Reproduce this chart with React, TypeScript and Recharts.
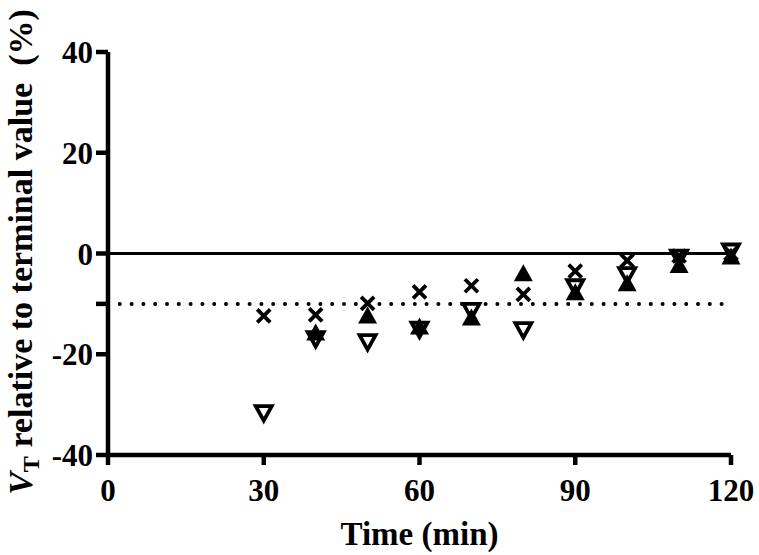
import { ScatterChart, Scatter, XAxis, YAxis, ReferenceLine } from 'recharts';

// sampling times (min)
const times = [30, 40, 50, 60, 70, 80, 90, 100, 110, 120];
// cross markers
const crossVals = [-12.4, -12.2, -9.9, -7.6, -6.4, -8.1, -3.5, -1.4, -0.5, 0];
// filled triangles (no point at 30 min)
const filledTimes = [40, 50, 60, 70, 80, 90, 100, 110, 120];
const filledVals = [-15.7, -12.3, -14.5, -12.7, -3.9, -7.7, -5.9, -2.3, -0.6];
// open inverted triangles
const openVals = [-31.7, -17.0, -17.6, -15.1, -11.4, -15.2, -6.7, -4.3, -0.8, 0.4];

const xTicks = [0, 30, 60, 90, 120];
const yTicks = [-40, -20, -10, 0, 20, 40];

const crossData = times.map((t, i) => ({ t, v: crossVals[i] }));
const filledData = filledTimes.map((t, i) => ({ t, v: filledVals[i] }));
const openData = times.map((t, i) => ({ t, v: openVals[i] }));

const FONT = '"Liberation Serif", "Times New Roman", serif';

const Cross = (props: any) => {
  const { cx, cy } = props;
  const r = 6.5;
  return (
    <g stroke="#000" strokeWidth={3.8}>
      <line x1={cx - r} y1={cy - r} x2={cx + r} y2={cy + r} />
      <line x1={cx - r} y1={cy + r} x2={cx + r} y2={cy - r} />
    </g>
  );
};

const TriUp = (props: any) => {
  const { cx, cy } = props;
  return <polygon points={`${cx},${cy - 9} ${cx + 9.5},${cy + 8} ${cx - 9.5},${cy + 8}`} fill="#000" />;
};

const TriDown = (props: any) => {
  const { cx, cy } = props;
  return (
    <polygon
      points={`${cx - 8},${cy - 7} ${cx + 8},${cy - 7} ${cx},${cy + 7.5}`}
      fill="#fff"
      stroke="#000"
      strokeWidth={3.8}
      strokeLinejoin="miter"
    />
  );
};

const YLabel = () => (
  <text
    x={32}
    y={252}
    transform="rotate(-90 32 252)"
    textAnchor="middle"
    fontFamily={FONT}
    fontWeight="bold"
    fontSize={34}
    fill="#000"
    style={{ whiteSpace: 'pre' }}
  >
    <tspan fontStyle="italic">V</tspan>
    <tspan fontSize={24} dy={7}>T</tspan>
    <tspan dy={-7}> relative to terminal value  (%)</tspan>
  </text>
);

const XLabel = (props: any) => {
  const vb = props.viewBox;
  return (
    <text
      x={vb.x + vb.width / 2}
      y={545}
      textAnchor="middle"
      fontFamily={FONT}
      fontWeight="bold"
      fontSize={33}
      fill="#000"
    >
      Time (min)
    </text>
  );
};

export default function App() {
  const tickStyle = { fontFamily: FONT, fontWeight: 'bold', fontSize: 31, fill: '#000' };
  return (
    <div style={{ position: 'absolute', left: 0, top: 0, background: '#fff' }}>
      <ScatterChart width={759} height={555} margin={{ top: 52, right: 28, bottom: 0, left: 0 }}>
        <XAxis
          type="number"
          dataKey="t"
          domain={[0, 120]}
          ticks={xTicks}
          interval={0}
          height={100}
          axisLine={{ stroke: '#000', strokeWidth: 4.5 }}
          tickLine={{ stroke: '#000', strokeWidth: 4.5 }}
          tickSize={10}
          tickMargin={14}
          tick={tickStyle}
          label={<XLabel />}
        />
        <YAxis
          type="number"
          dataKey="v"
          domain={[-40, 40]}
          ticks={yTicks}
          interval={0}
          width={108}
          axisLine={{ stroke: '#000', strokeWidth: 4.5 }}
          tickLine={{ stroke: '#000', strokeWidth: 4.5 }}
          tickSize={12}
          tickMargin={3}
          tick={tickStyle}
          tickFormatter={(v: number) => (v === -10 ? '' : String(v))}
          label={<YLabel />}
        />
        <ReferenceLine y={0} stroke="#000" strokeWidth={3} />
        <ReferenceLine y={-10} stroke="#000" strokeWidth={4} strokeDasharray="0 11.8" strokeLinecap="round" />
        <Scatter data={openData} shape={<TriDown />} isAnimationActive={false} />
        <Scatter data={filledData} shape={<TriUp />} isAnimationActive={false} />
        <Scatter data={crossData} shape={<Cross />} isAnimationActive={false} />
      </ScatterChart>
    </div>
  );
}
